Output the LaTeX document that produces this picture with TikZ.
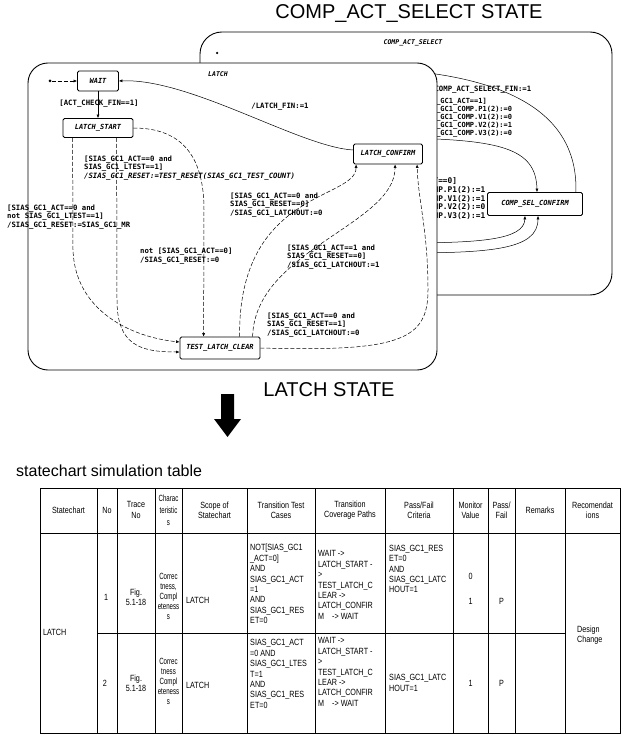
\documentclass[tikz,border=0pt]{standalone}
\usepackage{fontspec}
\setmainfont{Liberation Sans}
\newfontfamily\chartfont{DejaVu Sans Mono}
\newfontfamily\tablefont[FakeStretch=0.8]{Liberation Sans}
\newfontfamily\narrowfont[FakeStretch=0.68]{Liberation Sans}
\usetikzlibrary{arrows.meta,calc}

\begin{document}
\begin{tikzpicture}[x=1pt,y=-1pt,
  every node/.style={inner sep=0pt},
  state/.style={draw, fill=white, line width=0.8pt, rounded corners=1.5pt,
    font=\chartfont\bfseries\itshape\fontsize{7}{8}\selectfont},
  lbl/.style={font=\chartfont\bfseries\fontsize{7.3}{8.4}\selectfont, align=left, anchor=west},
  slbl/.style={font=\chartfont\bfseries\fontsize{7}{6.9}\selectfont, align=left, anchor=west},
  tr/.style={line width=0.5pt, -{Latex[length=3.5pt,width=3pt]}},
  trd/.style={tr, dash pattern=on 4pt off 2pt},
  frame/.style={draw, line width=0.9pt},
  title/.style={font=\fontsize{20}{24}\selectfont},
  cell/.style={font=\tablefont\fontsize{9}{10.4}\selectfont, align=center},
  ncell/.style={cell, font=\narrowfont\fontsize{9}{10}\selectfont},
  lcell/.style={cell, align=left, anchor=west},
  grid/.style={line width=0.6pt}
]
\useasboundingbox (0,0) rectangle (622,735);

% ---------- titles ----------
\node[title] (t1) at (409,14) {COMP\_ACT\_SELECT STATE};
\node[title] (t2) at (329,390) {LATCH STATE};
\node[font=\fontsize{16}{19}\selectfont, anchor=west] (t3) at (16,471) {statechart simulation table};

% ---------- COMP_ACT_SELECT super-state (partly behind LATCH) ----------
\draw[frame, rounded corners=22pt] (200,32) rectangle (612,295);
\node[font=\chartfont\bfseries\itshape\fontsize{6.5}{7}\selectfont] (compname) at (413,43) {COMP\_ACT\_SELECT};
\node[circle, fill, minimum size=2.5pt] (compinit) at (217,53) {};

\node[state, minimum width=95pt, minimum height=23pt] (csc) at (535,204) {COMP\_SEL\_CONFIRM};

\coordinate (finend) at (400,70);
\coordinate (selsrc) at (405,138);
\coordinate (upsrcA) at (400,243);
\coordinate (upsrcB) at (400,253);

\draw[tr] ($(csc.north east)+(-7,0)$) .. controls (578,120) and (520,80) .. (finend);
\draw[tr] (selsrc) .. controls (500,140) and (536,148) .. ($(csc.north)+(2,0)$);
\draw[tr] (upsrcA) .. controls (480,243) and (524,240) .. ($(csc.south)+(-10,0)$);
\draw[tr] (upsrcB) .. controls (490,253) and (538,250) .. ($(csc.south)+(3,0)$);

\node[lbl] (lfin) at (430,90) {/COMP\_ACT\_SELECT\_FIN:=1};
\node[slbl] (lact1) at (415,117.5) {[SIAS\_GC1\_ACT==1]\\/SIAS\_GC1\_COMP.P1(2):=0\\/SIAS\_GC1\_COMP.V1(2):=0\\/SIAS\_GC1\_COMP.V2(2):=1\\/SIAS\_GC1\_COMP.V3(2):=0};
\node[slbl, font=\chartfont\bfseries\fontsize{7.8}{7}\selectfont] (lact0) at (377,199) {[SIAS\_GC1\_ACT==0]\\/SIAS\_GC1\_COMP.P1(2):=1\\/SIAS\_GC1\_COMP.V1(2):=1\\/SIAS\_GC1\_COMP.V2(2):=0\\/SIAS\_GC1\_COMP.V3(2):=1};

% ---------- LATCH state ----------
\path[frame, fill=white, rounded corners=20pt] (28,63) rectangle (437,370);
\node[font=\chartfont\bfseries\itshape\fontsize{6.5}{7}\selectfont] (latchname) at (218,74) {LATCH};

\node[circle, fill, minimum size=3pt] (init) at (50,81) {};
\node[state, minimum width=41pt, minimum height=20pt] (wait) at (98,81) {WAIT};
\node[state, minimum width=70pt, minimum height=19pt] (lstart) at (98,128) {LATCH\_START};
\node[state, minimum width=69pt, minimum height=20pt] (lconf) at (388,154) {LATCH\_CONFIRM};
\node[state, minimum width=80pt, minimum height=22pt] (tlc) at (220,348) {TEST\_LATCH\_CLEAR};

% transitions
\draw[trd] (init) -- (wait);
\draw[tr] (wait) -- (lstart);
\draw[tr] ($(lconf.west)+(0,-4)$) .. controls (300,147) and (190,78) .. (wait.east);
\draw[trd] (lstart.east) .. controls (185,128) and (204,160) .. (204,210) -- ($(tlc.north west)+(24,0)$);
\draw[trd] ($(lstart.south west)+(10,0)$) -- (73,250) .. controls (75,310) and (130,337) .. ($(tlc.west)+(0,-6)$);
\draw[trd] ($(lstart.south west)+(54,0)$) -- (117,300) .. controls (117,345) and (140,352) .. ($(tlc.west)+(0,4)$);
\draw[trd] ($(tlc.north west)+(60,0)$) .. controls (238,190) and (356,200) .. ($(lconf.south west)+(3,0)$);
\draw[trd] ($(tlc.north west)+(73,0)$) .. controls (255,250) and (395,225) .. ($(lconf.south west)+(42,0)$);
\draw[trd] (tlc.east) .. controls (400,352) and (428,340) .. (428,290) .. controls (428,230) and (418,200) .. ($(lconf.south west)+(64,0)$);

% transition labels
\node[lbl, anchor=center] (la) at (99,104) {[ACT\_CHECK\_FIN==1]};
\node[lbl, anchor=center] (lb) at (280,107) {/LATCH\_FIN:=1};
\node[lbl] (lc) at (84,168) {[SIAS\_GC1\_ACT==0 and\\SIAS\_GC1\_LTEST==1]\\\itshape /SIAS\_GC1\_RESET:=TEST\_RESET(SIAS\_GC1\_TEST\_COUNT)};
\node[lbl] (ld) at (7,217) {[SIAS\_GC1\_ACT==0 and\\not SIAS\_GC1\_LTEST==1]\\/SIAS\_GC1\_RESET:=SIAS\_GC1\_MR};
\node[lbl] (le) at (140,256) {not [SIAS\_GC1\_ACT==0]\\/SIAS\_GC1\_RESET:=0};
\node[lbl] (lf) at (230,205) {[SIAS\_GC1\_ACT==0 and\\SIAS\_GC1\_RESET==0]\\/SIAS\_GC1\_LATCHOUT:=0};
\node[lbl] (lg) at (287,257) {[SIAS\_GC1\_ACT==1 and\\SIAS\_GC1\_RESET==0]\\/SIAS\_GC1\_LATCHOUT:=1};
\node[lbl] (lh) at (267,325) {[SIAS\_GC1\_ACT==0 and\\SIAS\_GC1\_RESET==1]\\/SIAS\_GC1\_LATCHOUT:=0};

% ---------- big down arrow ----------
\fill (221,394) -- (234,394) -- (234,419) -- (241,419) -- (227.5,437) -- (214,419) -- (221,419) -- cycle;

% ---------- simulation table ----------
\draw[grid] (40,488) rectangle (620,733);
\draw[grid] (40,533) -- (620,533);
\draw[grid] (97,633) -- (565,633);
\foreach \x in {97,117,155,182,247,315,385,453,488,515,565}
  \draw[grid] (\x,488) -- (\x,733);

% header
\node[cell] (h1) at (68.5,510) {Statechart};
\node[cell] (h2) at (107,510) {No};
\node[cell] (h3) at (136,510) {Trace\\No};
\node[ncell, font=\narrowfont\fontsize{9}{12}\selectfont] (h4) at (168.5,510) {Charac\\teristic\\s};
\node[cell] (h5) at (214.5,510) {Scope of\\Statechart};
\node[cell] (h6) at (281,510) {Transition Test\\Cases};
\node[cell] (h7) at (350,510) {Transition\\Coverage Paths};
\node[cell] (h8) at (419,510) {Pass/Fail\\Criteria};
\node[cell] (h9) at (470.5,510) {Monitor\\Value};
\node[cell] (h10) at (501.5,510) {Pass/\\Fail};
\node[cell] (h11) at (540,510) {Remarks};
\node[cell] (h12) at (592.5,510) {Recomendat\\ions};

% merged cells
\node[lcell] (sc) at (43,632) {LATCH};
\node[lcell] (rec) at (577,635) {Design\\Change};

% row 1
\node[cell] (r1no) at (106,597) {1};
\node[cell] (r1fig) at (136,597) {Fig.\\5.1-18};
\node[ncell] (r1ch) at (168.5,596) {Correc\\tness,\\Compl\\eteness\\s};
\node[lcell] (r1sc) at (186,600) {LATCH};
\node[lcell] (r1tt) at (250,584) {NOT[SIAS\_GC1\\\_ACT=0]\\AND\\SIAS\_GC1\_ACT\\=1\\AND\\SIAS\_GC1\_RES\\ET=0};
\node[lcell] (r1cp) at (318,585) {WAIT ->\\LATCH\_START -\\>\\TEST\_LATCH\_C\\LEAR ->\\LATCH\_CONFIR\\M\hspace{8pt}-> WAIT};
\node[lcell] (r1pf) at (389,569) {SIAS\_GC1\_RES\\ET=0\\AND\\SIAS\_GC1\_LATC\\HOUT=1};
\node[cell] (r1m0) at (470.5,576) {0};
\node[cell] (r1m1) at (470.5,601) {1};
\node[cell] (r1p) at (501.5,601) {P};

% row 2
\node[cell] (r2no) at (105,683) {2};
\node[cell] (r2fig) at (136,683) {Fig.\\5.1-18};
\node[ncell] (r2ch) at (168.5,681) {Correc\\tness\\Compl\\eteness\\s};
\node[lcell] (r2sc) at (186,685) {LATCH};
\node[lcell] (r2tt) at (250,674) {SIAS\_GC1\_ACT\\=0 AND\\SIAS\_GC1\_LTES\\T=1\\AND\\SIAS\_GC1\_RES\\ET=0};
\node[lcell] (r2cp) at (318,672) {WAIT ->\\LATCH\_START -\\>\\TEST\_LATCH\_C\\LEAR ->\\LATCH\_CONFIR\\M\hspace{8pt}-> WAIT};
\node[lcell] (r2pf) at (389,683) {SIAS\_GC1\_LATC\\HOUT=1};
\node[cell] (r2m1) at (470.5,683) {1};
\node[cell] (r2p) at (501.5,683) {P};
\end{tikzpicture}
\end{document}
